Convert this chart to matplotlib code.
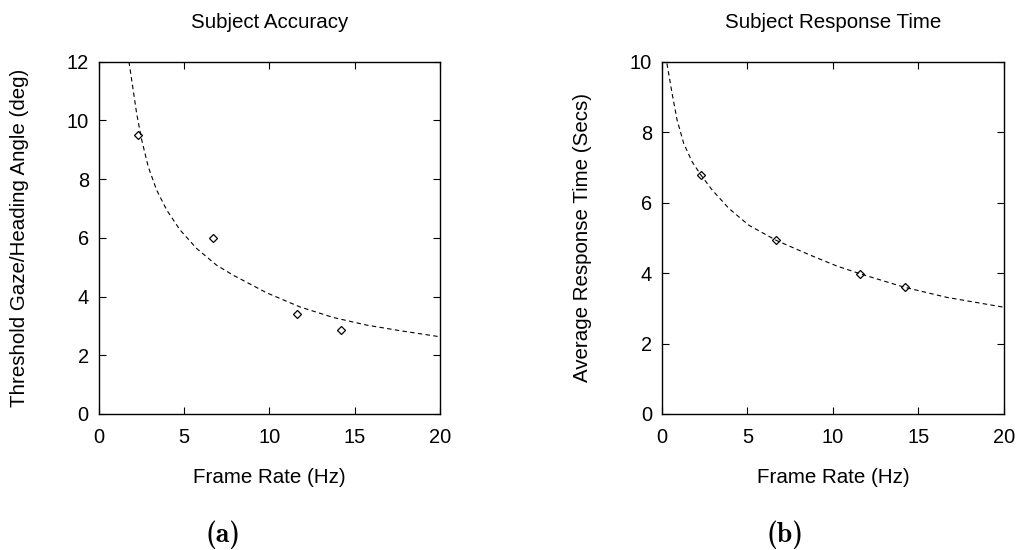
import os
import matplotlib
matplotlib.use("Agg")
import matplotlib.pyplot as plt
from matplotlib.font_manager import FontProperties

plt.rcParams['font.family'] = ['Liberation Sans', 'DejaVu Sans']

# Medidas de los sujetos
rate = [2.3, 6.7, 11.6, 14.2]
threshold = [9.5, 6.0, 3.4, 2.87]
resp_time = [6.78, 4.93, 3.98, 3.60]

# Curvas ajustadas
fit_acc_x = [1.78, 2.0, 2.23, 2.53, 2.91, 3.40, 3.99, 4.77, 5.74, 6.91, 7.88,
             9.84, 11.78, 13.73, 15.68, 17.63, 20.0]
fit_acc_y = [12.0, 11.15, 10.24, 9.33, 8.42, 7.63, 6.95, 6.27, 5.64, 5.07, 4.73,
             4.13, 3.65, 3.29, 3.03, 2.84, 2.63]
fit_rt_x = [0.30, 0.60, 0.89, 1.28, 1.77, 2.29, 2.94, 3.91, 5.08, 6.68, 8.67,
            10.23, 11.59, 14.16, 16.66, 20.0]
fit_rt_y = [9.95, 9.10, 8.35, 7.68, 7.16, 6.78, 6.36, 5.84, 5.36, 4.93, 4.51,
            4.20, 3.98, 3.60, 3.31, 3.03]

x_ticks = [0, 5, 10, 15, 20]
acc_ticks = [0, 2, 4, 6, 8, 10, 12]
rt_ticks = [0, 2, 4, 6, 8, 10]

fig = plt.figure(figsize=(10.16, 5.5), dpi=100)
ax1 = fig.add_axes([0.0970, 0.2473, 0.3361, 0.6405])
ax2 = fig.add_axes([0.6514, 0.2473, 0.3368, 0.6405])


def estilo(ax, yticks, ylabel, title):
    ax.set_xlim(0, 20)
    ax.set_ylim(yticks[0], yticks[-1])
    ax.set_xticks(x_ticks)
    ax.set_yticks(yticks)
    ax.tick_params(direction='in', top=True, right=True, length=5, width=0.8,
                   labelsize=14.4)
    ax.tick_params(axis='x', pad=10)
    ax.tick_params(axis='y', pad=7)
    for s in ax.spines.values():
        s.set_linewidth(1.0)
    ax.set_xlabel("Frame Rate (Hz)", fontsize=14.8, labelpad=15)
    ax.set_ylabel(ylabel, fontsize=14.8, labelpad=27)
    ax.set_title(title, fontsize=14.8, pad=24)


ax1.plot(fit_acc_x, fit_acc_y, '--', color='k', linewidth=0.8, dashes=(4, 3))
ax1.plot(rate, threshold, 'D', markersize=4.5, markerfacecolor='none',
         markeredgecolor='k', markeredgewidth=0.9)
estilo(ax1, acc_ticks, "Threshold Gaze/Heading Angle (deg)", "Subject Accuracy")

ax2.plot(fit_rt_x, fit_rt_y, '--', color='k', linewidth=0.8, dashes=(4, 3))
ax2.plot(rate, resp_time, 'D', markersize=4.5, markerfacecolor='none',
         markeredgecolor='k', markeredgewidth=0.9)
estilo(ax2, rt_ticks, "Average Response Time (Secs)", "Subject Response Time")

# letra de la subfigura en Computer Modern negrita
cmb = os.path.join(matplotlib.get_data_path(), 'fonts', 'ttf', 'cmb10.ttf')
fp = FontProperties(fname=cmb, size=20)
fig.text(223 / 1016, 0.028, '(a)', fontproperties=fp, ha='center', va='center')
fig.text(785 / 1016, 0.028, '(b)', fontproperties=fp, ha='center', va='center')

fig.savefig("out.png", dpi=100)
